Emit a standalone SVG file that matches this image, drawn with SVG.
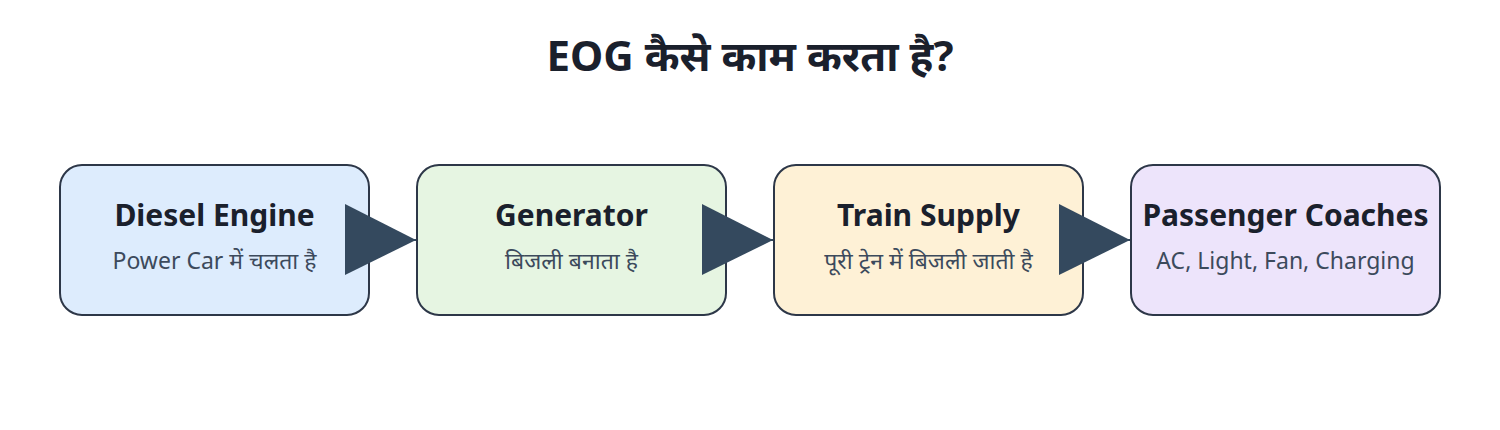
<svg xmlns="http://www.w3.org/2000/svg" width="1500" height="430" viewBox="0 0 1500 430">
<style>
.box{stroke:#2d3748;stroke-width:2}
.t{font-family:"Noto Sans","Noto Sans Devanagari","DejaVu Sans",sans-serif;text-anchor:middle}
.title{font-size:42px;font-weight:700;fill:#1a202c}
.h{font-size:30px;font-weight:700;fill:#1a202c}
.s{font-size:23px;fill:#3c4a5c}
.conn{stroke:#34495e;stroke-width:2;fill:none}
</style>
<defs>
<marker id="arr" markerUnits="userSpaceOnUse" markerWidth="72" markerHeight="72" viewBox="0 0 72 72" refX="71" refY="36" orient="auto">
<polygon points="0,0 71,36 0,71" fill="#34495e"/>
</marker>
</defs>
<rect width="1500" height="430" fill="#ffffff"/>
<text class="t title" x="750" y="71">EOG कैसे काम करता है?</text>
<g id="node-diesel">
<rect class="box" x="60" y="165" width="309" height="150" rx="22" fill="#ddecfd"/>
<text class="t h" x="214.5" y="226">Diesel Engine</text>
<text class="t s" x="214.5" y="269">Power Car में चलता है</text>
</g>
<g id="node-generator">
<rect class="box" x="417" y="165" width="309" height="150" rx="22" fill="#e6f5e2"/>
<text class="t h" x="571.5" y="226">Generator</text>
<text class="t s" x="571.5" y="269">बिजली बनाता है</text>
</g>
<g id="node-supply">
<rect class="box" x="774" y="165" width="309" height="150" rx="22" fill="#fef1d6"/>
<text class="t h" x="928.5" y="226">Train Supply</text>
<text class="t s" x="928.5" y="269">पूरी ट्रेन में बिजली जाती है</text>
</g>
<g id="node-coaches">
<rect class="box" x="1131" y="165" width="309" height="150" rx="22" fill="#ede4fb"/>
<text class="t h" x="1285.5" y="226">Passenger Coaches</text>
<text class="t s" x="1285.5" y="269">AC, Light, Fan, Charging</text>
</g>
<g id="connectors">
<line class="conn" x1="370" y1="240" x2="416" y2="240" marker-end="url(#arr)"/>
<line class="conn" x1="727" y1="240" x2="773" y2="240" marker-end="url(#arr)"/>
<line class="conn" x1="1084" y1="240" x2="1130" y2="240" marker-end="url(#arr)"/>
</g>
</svg>
